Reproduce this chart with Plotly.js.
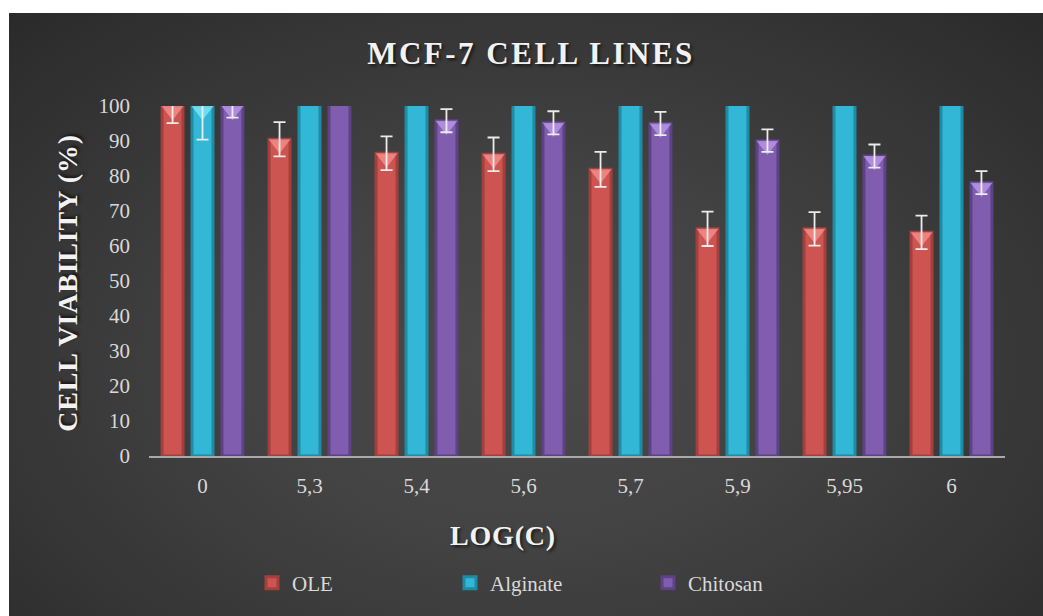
<!DOCTYPE html>
<html>
<head>
<meta charset="utf-8">
<script src="https://cdn.plot.ly/plotly-3.0.1.min.js"></script>
<style>
  html, body { margin: 0; padding: 0; background: #ffffff; width: 1043px; height: 616px; overflow: hidden; }
  #panel {
    position: absolute; left: 9px; top: 13px; width: 1034px; height: 603px;
    background: radial-gradient(ellipse 75% 85% at 50% 58%, #4a4a4a 0%, #434343 35%, #353535 70%, #282828 100%);
  }
  #chart { position: absolute; left: 0; top: 0; width: 1043px; height: 616px; }
  .gtitle { letter-spacing: 2.5px; text-shadow: 2px 2px 3px rgba(0,0,0,0.6); }
  .annotation-text { letter-spacing: 0.8px; text-shadow: 2px 2px 3px rgba(0,0,0,0.6); }
</style>
</head>
<body>
<div id="panel"></div>
<div id="chart"></div>
<script>
// Concentrations (log scale labels) on the x axis
const categories = ['0', '5,3', '5,4', '5,6', '5,7', '5,9', '5,95', '6'];

// Cell viability (%) and standard deviations per formulation
const oleValues = [100, 90.5, 86.5, 86.2, 81.9, 64.9, 64.9, 63.9];
const oleErrors = [4.9, 4.9, 4.8, 4.8, 5.0, 4.9, 4.8, 4.8];

const alginateValues = [100, 108, 107, 110, 106, 109, 107, 105];
const alginateErrors = [9.6, 3, 3, 3, 3, 3, 3, 3];

const chitosanValues = [100, 105, 95.8, 95.2, 95.0, 90.1, 85.7, 78.1];
const chitosanErrors = [3.3, 3, 3.3, 3.3, 3.3, 3.2, 3.3, 3.3];

const seriesNames = ['OLE', 'Alginate', 'Chitosan'];

const FONT = 'Liberation Serif, Times New Roman, serif';
const W = 1043, H = 616;
const M = { l: 149, r: 38, t: 106, b: 160 };
const Y_MAX = 100;

// body colour, shaded rim and top-bevel highlight for each series
const series = [
  { name: seriesNames[0], y: oleValues, err: oleErrors, fill: '#cd5451', edge: '#a3403e', hi: '#f4908c' },
  { name: seriesNames[1], y: alginateValues, err: alginateErrors, fill: '#33b7d6', edge: '#1f8ba4', hi: '#7ce6f7' },
  { name: seriesNames[2], y: chitosanValues, err: chitosanErrors, fill: '#805dae', edge: '#5d4286', hi: '#bb98ea' }
];

// bevel triangle sits just under the top of each bar
const TRI_SIZE = 19;
const unitsPerPx = Y_MAX / (H - M.t - M.b);
const triShift = (TRI_SIZE / 4) * unitsPerPx;

const traces = [];
series.forEach(s => {
  traces.push({
    type: 'bar', name: s.name, x: categories, y: s.y,
    offsetgroup: s.name,
    marker: { color: s.fill, line: { color: s.edge, width: 3 } },
    hoverinfo: 'x+y+name'
  });
});
series.forEach(s => {
  traces.push({
    type: 'scatter', mode: 'markers', x: categories,
    y: s.y.map(v => v - triShift),
    offsetgroup: s.name, showlegend: false, hoverinfo: 'skip',
    marker: { symbol: 'triangle-down', size: TRI_SIZE, color: s.hi, opacity: 0.8, line: { width: 0 } },
    cliponaxis: true
  });
});
series.forEach(s => {
  traces.push({
    type: 'scatter', mode: 'markers', x: categories, y: s.y,
    offsetgroup: s.name, showlegend: false, hoverinfo: 'skip',
    marker: { size: 2, opacity: 0 },
    error_y: { type: 'data', array: s.err, visible: true, color: '#ececec', thickness: 1.8, width: 6 },
    cliponaxis: true
  });
});

const layout = {
  width: W, height: H,
  margin: M,
  paper_bgcolor: 'rgba(0,0,0,0)',
  plot_bgcolor: 'rgba(0,0,0,0)',
  font: { family: FONT, color: '#d9d9d9', size: 21 },
  barmode: 'group',
  bargap: 0.16,
  bargroupgap: 0.3,
  scattermode: 'group',
  scattergap: 0.16,
  title: {
    text: '<b>MCF-7 CELL LINES</b>',
    font: { family: FONT, size: 31, color: '#f2f2f2' },
    x: 531 / W, xref: 'container', xanchor: 'center',
    y: 1 - 53 / H, yref: 'container', yanchor: 'middle'
  },
  xaxis: {
    type: 'category',
    showline: true, linecolor: '#a9a9a9', linewidth: 2,
    showgrid: false, zeroline: false, ticks: '',
    ticklabelstandoff: 10,
    tickfont: { family: FONT, size: 21, color: '#d9d9d9' }
  },
  yaxis: {
    range: [0, Y_MAX], dtick: 10,
    showline: false, showgrid: false, zeroline: false, ticks: '',
    ticklabelstandoff: 18,
    tickfont: { family: FONT, size: 21, color: '#d9d9d9' }
  },
  annotations: [
    {
      text: '<b>CELL VIABILITY (%)</b>', textangle: -90,
      xref: 'paper', yref: 'paper', x: (68 - M.l) / (W - M.l - M.r), y: 0.495,
      xanchor: 'center', yanchor: 'middle', showarrow: false,
      font: { family: FONT, size: 28, color: '#f2f2f2' }
    },
    {
      text: '<b>LOG(C)</b>',
      xref: 'paper', yref: 'paper', x: (503 - M.l) / (W - M.l - M.r), y: (456 - 535) / (H - M.t - M.b),
      xanchor: 'center', yanchor: 'middle', showarrow: false,
      font: { family: FONT, size: 28, color: '#f2f2f2' }
    }
  ],
  legend: {
    orientation: 'h',
    xref: 'paper', yref: 'paper',
    x: (252 - M.l) / (W - M.l - M.r), xanchor: 'left',
    y: (456 - 583) / (H - M.t - M.b), yanchor: 'middle',
    entrywidth: 153, entrywidthmode: 'pixels',
    font: { family: FONT, size: 21, color: '#d9d9d9' },
    bgcolor: 'rgba(0,0,0,0)'
  },
  showlegend: true
};

Plotly.newPlot('chart', traces, layout, { displayModeBar: false, staticPlot: true });
</script>
</body>
</html>
